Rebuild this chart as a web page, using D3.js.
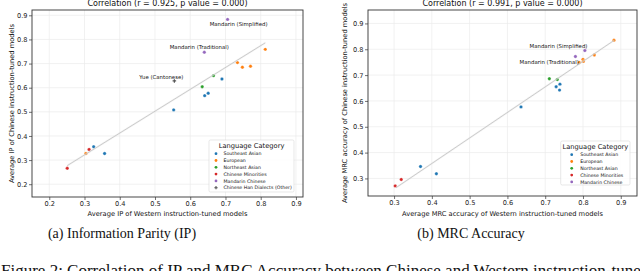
<!DOCTYPE html>
<html><head><meta charset="utf-8">
<script src="https://cdn.jsdelivr.net/npm/d3@7"></script>
<style>html,body{margin:0;padding:0;background:#fff;overflow:hidden}</style>
</head><body>
<svg id="c" width="640" height="271"></svg>
<script>
// ---------- data ----------
const categories = ["Southeast Asian","European","Northeast Asian","Chinese Minorities","Mandarin Chinese","Chinese Han Dialects (Other)"];
const categoryColors = ["#1f77b4","#ff7f0e","#2ca02c","#d62728","#9467bd","#555555"];

// (a) Information Parity
const ipWestern  = [0.690,0.651,0.641,0.553,0.326,0.357, 0.813,0.734,0.748,0.771,0.304, 0.666,0.634, 0.313,0.251, 0.706,0.640, 0.555];
const ipChinese  = [0.636,0.577,0.567,0.508,0.355,0.327, 0.759,0.704,0.685,0.689,0.327, 0.650,0.604, 0.344,0.266, 0.883,0.747, 0.628];
const ipCategory = [0,0,0,0,0,0, 1,1,1,1,1, 2,2, 3,3, 4,4, 5];
const ipLabel    = ["","","","","","", "","","","","", "","", "","", "Mandarin (Simplified)","Mandarin (Traditional)","Yue (Cantonese)"];
const ipFitX = [0.251, 0.813];
const ipFitY = [0.277, 0.786];
const ipTicks = [0.2,0.3,0.4,0.5,0.6,0.7,0.8,0.9];

// (b) MRC accuracy
const mrcWestern  = [0.739,0.729,0.738,0.636,0.370,0.412, 0.882,0.830,0.800,0.801,0.790, 0.711,0.732, 0.303,0.319, 0.805,0.780];
const mrcChinese  = [0.665,0.655,0.642,0.577,0.346,0.318, 0.835,0.778,0.761,0.753,0.749, 0.686,0.683, 0.271,0.296, 0.795,0.772];
const mrcCategory = [0,0,0,0,0,0, 1,1,1,1,1, 2,2, 3,3, 4,4];
const mrcLabel    = ["","","","","","", "","","","","", "","", "","", "Mandarin (Simplified)","Mandarin (Traditional)"];
const mrcFitX = [0.305, 0.883];
const mrcFitY = [0.264, 0.835];
const mrcTicks = [0.3,0.4,0.5,0.6,0.7,0.8,0.9];

const titles = ["Correlation (r = 0.925, p value = 0.000)", "Correlation (r = 0.991, p value = 0.000)"];
const xLabels = ["Average IP of Western instruction-tuned models", "Average MRC accuracy of Western instruction-tuned models"];
const yLabels = ["Average IP of Chinese instruction-tuned models", "Average MRC accuracy of Chinese instruction-tuned models"];
const captions = ["(a) Information Parity (IP)", "(b) MRC Accuracy"];
const figureCaption = "Figure 2: Correlation of IP and MRC Accuracy between Chinese and Western instruction-tuned models";

// ---------- drawing ----------
const svg = d3.select("#c");
const FONT = "DejaVu Sans";

function drawPanel(o){
  const g = svg.append("g");
  const x = d3.scaleLinear().domain(o.xDomain).range([o.left, o.right]);
  const y = d3.scaleLinear().domain(o.yDomain).range([o.bottom, o.top]);

  // grid
  g.append("g").selectAll("line").data(o.ticks).join("line")
    .attr("x1", d=>x(d)).attr("x2", d=>x(d)).attr("y1", o.top).attr("y2", o.bottom)
    .attr("stroke", "#ebebeb").attr("stroke-width", 0.7);
  g.append("g").selectAll("line").data(o.ticks).join("line")
    .attr("y1", d=>y(d)).attr("y2", d=>y(d)).attr("x1", o.left).attr("x2", o.right)
    .attr("stroke", "#ebebeb").attr("stroke-width", 0.7);

  // axes
  const xa = g.append("g").attr("transform", `translate(0,${o.bottom})`)
    .call(d3.axisBottom(x).tickValues(o.ticks).tickFormat(d3.format(".1f")).tickSize(3).tickPadding(1.5));
  const ya = g.append("g").attr("transform", `translate(${o.left},0)`)
    .call(d3.axisLeft(y).tickValues(o.ticks).tickFormat(d3.format(".1f")).tickSize(3).tickPadding(1.5));
  [xa, ya].forEach(a=>{
    a.select(".domain").remove();
    a.selectAll("line").attr("stroke", "#333").attr("stroke-width", 0.7);
    a.selectAll("text").attr("font-family", FONT).attr("font-size", 6.6).attr("fill", "#222");
  });

  // points
  const idx = d3.range(o.xs.length);
  g.append("g").selectAll("path").data(idx).join("path")
    .attr("transform", i=>`translate(${x(o.xs[i])},${y(o.ys[i])})`)
    .attr("d", i=> o.cats[i]===5 ? d3.symbol(d3.symbolCross, 7)() : d3.symbol(d3.symbolCircle, 9)())
    .attr("fill", i=>categoryColors[o.cats[i]])
    .attr("stroke", i=> o.cats[i]===5 ? "none" : "#fff").attr("stroke-width", 0.3);

  // regression line with narrow band
  const lineGen = d3.line().x(d=>x(d[0])).y(d=>y(d[1]));
  const pts = [[o.fitX[0], o.fitY[0]], [o.fitX[1], o.fitY[1]]];
  g.append("path").attr("d", lineGen(pts)).attr("stroke", "#e4e4e4").attr("stroke-opacity", 0.4)
    .attr("stroke-width", 2).attr("fill", "none");
  g.append("path").attr("d", lineGen(pts)).attr("stroke", "#c2c2c2").attr("stroke-width", 0.8).attr("fill", "none");

  // annotations
  idx.filter(i=>o.labels[i]).forEach(i=>{
    const off = o.labelOffsets[o.labels[i]];
    g.append("text").attr("x", x(o.xs[i]) + off[0]).attr("y", y(o.ys[i]) + off[1])
      .attr("text-anchor", off[2]).attr("font-family", FONT).attr("font-size", 5.4).attr("fill", "#111")
      .text(o.labels[i]);
  });

  // frame
  g.append("rect").attr("x", o.left).attr("y", o.top).attr("width", o.right-o.left).attr("height", o.bottom-o.top)
    .attr("fill", "none").attr("stroke", "#333").attr("stroke-width", 0.9);

  // title & axis labels
  const cx = (o.left+o.right)/2;
  g.append("text").attr("x", cx).attr("y", 5.8).attr("text-anchor", "middle")
    .attr("font-family", FONT).attr("font-size", 8).attr("fill", "#111").text(o.title);
  g.append("text").attr("x", cx).attr("y", 215.5).attr("text-anchor", "middle")
    .attr("font-family", FONT).attr("font-size", 6.7).attr("fill", "#111").text(o.xLabel);
  g.append("text").attr("transform", `translate(${o.yLabelX},${(o.top+o.bottom)/2}) rotate(-90)`)
    .attr("text-anchor", "middle").attr("dy", "0.35em")
    .attr("font-family", FONT).attr("font-size", 6.7).attr("fill", "#111").text(o.yLabel);

  // legend
  const L = o.legend;
  const usedCats = Array.from(new Set(o.cats)).sort((a,b)=>a-b);
  g.append("rect").attr("x", L.x).attr("y", L.y).attr("width", L.w).attr("height", L.h).attr("rx", 1.5)
    .attr("fill", "#fff").attr("fill-opacity", 0.85).attr("stroke", "#d9d9d9").attr("stroke-width", 0.6);
  g.append("text").attr("x", L.x + L.w/2).attr("y", L.y + 8).attr("text-anchor", "middle")
    .attr("font-family", FONT).attr("font-size", 6.7).attr("fill", "#111").text("Language Category");
  usedCats.forEach((c, k)=>{
    const yy = L.y + 13.7 + k*6.8;
    g.append("path").attr("transform", `translate(${L.mx},${yy})`)
      .attr("d", c===5 ? d3.symbol(d3.symbolCross, 6)() : d3.symbol(d3.symbolCircle, 6)())
      .attr("fill", categoryColors[c]);
    g.append("text").attr("x", L.tx).attr("y", yy).attr("dy", "0.35em")
      .attr("font-family", FONT).attr("font-size", 4.7).attr("fill", "#111").text(categories[c]);
  });
}

drawPanel({
  left:32, right:303, top:10, bottom:197, xDomain:[0.151,0.920], yDomain:[0.147,0.922],
  ticks: ipTicks, xs: ipWestern, ys: ipChinese, cats: ipCategory, labels: ipLabel,
  fitX: ipFitX, fitY: ipFitY, title: titles[0], xLabel: xLabels[0], yLabel: yLabels[0], yLabelX: 11.7,
  labelOffsets: {"Mandarin (Simplified)":[11,6.6,"middle"], "Mandarin (Traditional)":[-5,-3.2,"middle"], "Yue (Cantonese)":[-13,-1.9,"middle"]},
  legend: {x:209, y:140, w:85, h:52, mx:216, tx:223.5}
});
drawPanel({
  left:368, right:637, top:10, bottom:196, xDomain:[0.231,0.943], yDomain:[0.232,0.952],
  ticks: mrcTicks, xs: mrcWestern, ys: mrcChinese, cats: mrcCategory, labels: mrcLabel,
  fitX: mrcFitX, fitY: mrcFitY, title: titles[1], xLabel: xLabels[1], yLabel: yLabels[1], yLabelX: 345,
  labelOffsets: {"Mandarin (Simplified)":[2.6,-2.8,"end"], "Mandarin (Traditional)":[3.4,7.8,"end"]},
  legend: {x:560.7, y:141, w:69.3, h:44, mx:571.7, tx:580.2}
});

// captions
const capX = [122, 471];
captions.forEach((t,i)=>{
  svg.append("text").attr("x", capX[i]).attr("y", 237.5).attr("text-anchor", "middle")
    .attr("font-family", "Liberation Serif").attr("font-size", 14).attr("fill", "#111").text(t);
});
svg.append("text").attr("x", 1).attr("y", 275.5).attr("font-family", "Liberation Serif")
  .attr("font-size", 17).attr("fill", "#111").text(figureCaption);
</script>
</body></html>
